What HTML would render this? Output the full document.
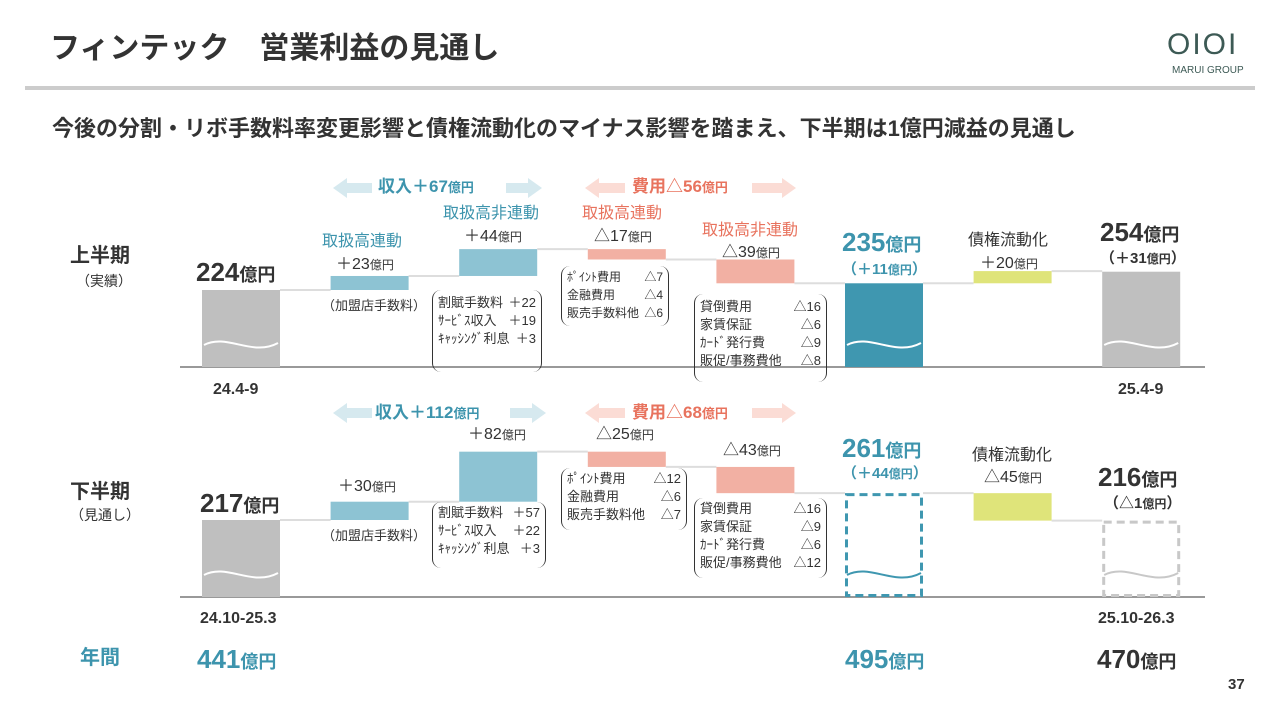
<!DOCTYPE html>
<html><head><meta charset="utf-8"><style>
body{margin:0;width:1280px;height:720px;background:#fff;position:relative;overflow:hidden;font-family:"Liberation Sans","Noto Sans CJK JP",sans-serif;color:#333}
.t{position:absolute;white-space:nowrap;line-height:1}
.b{font-weight:bold}
.blue{color:#3d94ad}.sal{color:#e8735e}
.br{position:absolute;border-left:1.5px solid #333;border-right:1.5px solid #333;border-radius:9px;font-size:13px;line-height:18px;padding:2px 5px;box-sizing:border-box;white-space:nowrap}
.br div{display:flex;justify-content:space-between;gap:4px;white-space:nowrap}
svg{position:absolute;left:0;top:0}
</style></head><body>
<svg width="1280" height="720" id="chart"></svg>
<div class="t b" style="left:50px;top:34px;font-size:30px">フィンテック　営業利益の見通し</div>
<div style="position:absolute;left:25px;top:86px;width:1230px;height:4px;background:#ccc"></div>
<div class="t" style="left:1167px;top:30px;font-size:30px;color:#3d5a55;letter-spacing:2px">OIOI</div>
<div class="t" style="left:1172px;top:66px;font-size:10px;color:#3d5a55">MARUI GROUP</div>
<div class="t b" style="left:52px;top:118px;font-size:22px">今後の分割・リボ手数料率変更影響と債権流動化のマイナス影響を踏まえ、下半期は1億円減益の見通し</div>

<div class="t b" style="left:70px;top:246px;font-size:20px">上半期</div>
<div class="t" style="left:76px;top:274px;font-size:14px">（実績）</div>
<div class="t b" style="left:70px;top:482px;font-size:20px">下半期</div>
<div class="t" style="left:70px;top:508px;font-size:14px">（見通し）</div>

<div class="t b blue" style="left:378px;top:178px;font-size:17px">収入＋67<span style="font-size:13px">億円</span></div>
<div class="t b sal" style="left:632px;top:178px;font-size:17px">費用△56<span style="font-size:13px">億円</span></div>
<div class="t b" style="left:196px;top:259px;font-size:26px">224<span style="font-size:18px">億円</span></div>
<div class="t blue" style="left:322px;top:234px;font-size:16px">取扱高連動</div>
<div class="t" style="left:336px;top:257px;font-size:16px">＋23<span style="font-size:12px">億円</span></div>
<div class="t" style="left:322px;top:299px;font-size:13px">（加盟店手数料）</div>
<div class="t blue" style="left:443px;top:206px;font-size:16px">取扱高非連動</div>
<div class="t" style="left:464px;top:229px;font-size:16px">＋44<span style="font-size:12px">億円</span></div>
<div class="t sal" style="left:582px;top:206px;font-size:16px">取扱高連動</div>
<div class="t" style="left:594px;top:229px;font-size:16px">△17<span style="font-size:12px">億円</span></div>
<div class="t sal" style="left:702px;top:223px;font-size:16px">取扱高非連動</div>
<div class="t" style="left:722px;top:245px;font-size:16px">△39<span style="font-size:12px">億円</span></div>
<div class="t b blue" style="left:842px;top:229px;font-size:26px">235<span style="font-size:18px">億円</span></div>
<div class="t b blue" style="left:842px;top:262px;font-size:15px">（＋11<span style="font-size:12px">億円</span>）</div>
<div class="t" style="left:968px;top:233px;font-size:16px">債権流動化</div>
<div class="t" style="left:980px;top:256px;font-size:16px">＋20<span style="font-size:12px">億円</span></div>
<div class="t b" style="left:1100px;top:219px;font-size:26px">254<span style="font-size:18px">億円</span></div>
<div class="t b" style="left:1100px;top:251px;font-size:15px">（＋31<span style="font-size:12px">億円</span>）</div>
<div class="t b" style="left:213px;top:382px;font-size:16px">24.4-9</div>
<div class="t b" style="left:1118px;top:382px;font-size:16px">25.4-9</div>

<div class="br" style="left:432px;top:290px;width:110px;height:82px;padding-top:4px"><div><span>割賦手数料</span><span>＋22</span></div><div><span>ｻｰﾋﾞｽ収入</span><span>＋19</span></div><div><span>ｷｬｯｼﾝｸﾞ利息</span><span>＋3</span></div></div>
<div class="br" style="left:561px;top:266px;width:108px;height:60px;font-size:12px"><div><span>ﾎﾟｲﾝﾄ費用</span><span>△7</span></div><div><span>金融費用</span><span>△4</span></div><div><span>販売手数料他</span><span>△6</span></div></div>
<div class="br" style="left:694px;top:294px;width:133px;height:88px;padding-top:4px"><div><span>貸倒費用</span><span>△16</span></div><div><span>家賃保証</span><span>△6</span></div><div><span>ｶｰﾄﾞ発行費</span><span>△9</span></div><div><span>販促/事務費他</span><span>△8</span></div></div>

<div class="t b blue" style="left:375px;top:404px;font-size:17px">収入＋112<span style="font-size:13px">億円</span></div>
<div class="t b sal" style="left:632px;top:404px;font-size:17px">費用△68<span style="font-size:13px">億円</span></div>
<div class="t b" style="left:200px;top:490px;font-size:26px">217<span style="font-size:18px">億円</span></div>
<div class="t" style="left:338px;top:479px;font-size:16px">＋30<span style="font-size:12px">億円</span></div>
<div class="t" style="left:322px;top:529px;font-size:13px">（加盟店手数料）</div>
<div class="t" style="left:468px;top:427px;font-size:16px">＋82<span style="font-size:12px">億円</span></div>
<div class="t" style="left:596px;top:427px;font-size:16px">△25<span style="font-size:12px">億円</span></div>
<div class="t" style="left:723px;top:443px;font-size:16px">△43<span style="font-size:12px">億円</span></div>
<div class="t b blue" style="left:842px;top:435px;font-size:26px">261<span style="font-size:18px">億円</span></div>
<div class="t b blue" style="left:842px;top:466px;font-size:15px">（＋44<span style="font-size:12px">億円</span>）</div>
<div class="t" style="left:972px;top:448px;font-size:16px">債権流動化</div>
<div class="t" style="left:984px;top:470px;font-size:16px">△45<span style="font-size:12px">億円</span></div>
<div class="t b" style="left:1098px;top:464px;font-size:26px">216<span style="font-size:18px">億円</span></div>
<div class="t b" style="left:1104px;top:496px;font-size:15px">（△1<span style="font-size:12px">億円</span>）</div>
<div class="t b" style="left:200px;top:611px;font-size:16px">24.10-25.3</div>
<div class="t b" style="left:1098px;top:611px;font-size:16px">25.10-26.3</div>

<div class="br" style="left:432px;top:502px;width:114px;height:66px"><div><span>割賦手数料</span><span>＋57</span></div><div><span>ｻｰﾋﾞｽ収入</span><span>＋22</span></div><div><span>ｷｬｯｼﾝｸﾞ利息</span><span>＋3</span></div></div>
<div class="br" style="left:561px;top:468px;width:126px;height:62px"><div><span>ﾎﾟｲﾝﾄ費用</span><span>△12</span></div><div><span>金融費用</span><span>△6</span></div><div><span>販売手数料他</span><span>△7</span></div></div>
<div class="br" style="left:694px;top:498px;width:133px;height:80px"><div><span>貸倒費用</span><span>△16</span></div><div><span>家賃保証</span><span>△9</span></div><div><span>ｶｰﾄﾞ発行費</span><span>△6</span></div><div><span>販促/事務費他</span><span>△12</span></div></div>

<div class="t b blue" style="left:80px;top:648px;font-size:20px">年間</div>
<div class="t b blue" style="left:197px;top:646px;font-size:26px">441<span style="font-size:18px">億円</span></div>
<div class="t b blue" style="left:845px;top:646px;font-size:26px">495<span style="font-size:18px">億円</span></div>
<div class="t b" style="left:1097px;top:646px;font-size:26px">470<span style="font-size:18px">億円</span></div>
<div class="t b" style="left:1228px;top:677px;font-size:15px">37</div>

<script>
const steps = ["start","linkedRev","nonlinkedRev","linkedCost","nonlinkedCost","mid","securitization","end"];
const h1Deltas = [224, 23, 44, -17, -39, 235, 20, 254];
const h2Deltas = [217, 30, 82, -25, -43, 261, -45, 216];
const colors = ["#bfbfbf","#8dc3d3","#8dc3d3","#f2b0a3","#f2b0a3","#3f97b0","#dfe47a","#bfbfbf"];
const NS="http://www.w3.org/2000/svg";
const svg=document.getElementById('chart');
const SC=0.61, X0=202, STEP=128.6, W=78;
function mk(tag,attrs){const e=document.createElementNS(NS,tag);for(const k in attrs)e.setAttribute(k,attrs[k]);svg.appendChild(e);return e;}
function panel(vals,baseY,tag,dashed){
  const start=vals[0];
  const y=v=>baseY-77-(v-start)*SC;
  const line=mk('line',{x1:180,x2:1205,y1:baseY,y2:baseY,stroke:'#999','stroke-width':2});
  
  
  let run=start;
  for(let i=0;i<vals.length;i++){
    const x=X0+i*STEP;
    let top,bot;
    if(i==0||i==5||i==7){top=y(vals[i]);bot=baseY;run=vals[i];}
    else{const a=run,b=run+vals[i];top=Math.min(y(a),y(b));bot=Math.max(y(a),y(b));run=b;}
    const isDash=dashed&&(i==5||i==7);
    const r=mk('rect',isDash?{x:x+1.5,y:top+1.5,width:W-3,height:bot-top-3,fill:'none',stroke:i==5?'#3f97b0':'#c8c8c8','stroke-width':3,'stroke-dasharray':'8 5'}:{x:x,y:top,width:W,height:bot-top,fill:colors[i]});
    
    
    if(i==0||i==5||i==7){
      const wy=baseY-22;
      const col=isDash?(i==5?'#3f97b0':'#c8c8c8'):'#fff';
      const p=mk('path',{d:`M${x+2} ${wy} C${x+25} ${wy-12} ${x+50} ${wy+12} ${x+W-2} ${wy-2}`,fill:'none',stroke:col,'stroke-width':2});
      
      
    }
    if(i<vals.length-1){
      const ly=y(run);
      const c=mk('line',{x1:x+W,x2:x+STEP,y1:ly,y2:ly,stroke:'#ddd','stroke-width':2});
      
      
    }
  }
}
panel(h1Deltas,367,'h1',false);
panel(h2Deltas,597,'h2',true);
function arrows(y,c,x1,x2,x3,x4,tag){
  [[x1,x2,-1],[x3,x4,1]].forEach(([a,b,d],k)=>{
    const pts=d<0?`${a},${y} ${a+14},${y-10} ${a+14},${y-5} ${b},${y-5} ${b},${y+5} ${a+14},${y+5} ${a+14},${y+10}`
                 :`${b},${y} ${b-14},${y-10} ${b-14},${y-5} ${a},${y-5} ${a},${y+5} ${b-14},${y+5} ${b-14},${y+10}`;
    const p=mk('polygon',{points:pts,fill:c});
    
    
  });
}
arrows(188,'#d6e9ef',333,372,506,542,'rev-h1');
arrows(188,'#fbdcd5',585,625,752,796,'cost-h1');
arrows(413,'#d6e9ef',333,372,510,546,'rev-h2');
arrows(413,'#fbdcd5',585,625,752,796,'cost-h2');
</script>
</body></html>
